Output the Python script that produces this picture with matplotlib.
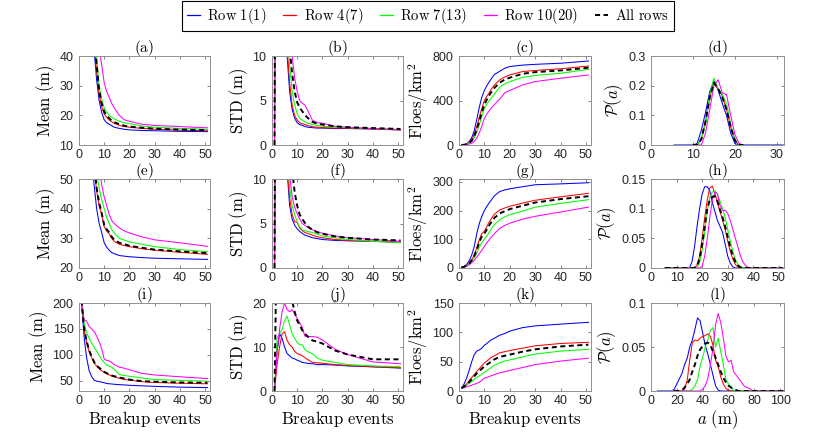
import matplotlib
matplotlib.use("Agg")
import matplotlib.pyplot as plt
from matplotlib.lines import Line2D
from matplotlib.ticker import FuncFormatter

plt.rcParams["font.family"] = ["Liberation Sans", "DejaVu Sans"]
plt.rcParams["mathtext.fontset"] = "cm"

nan = float("nan")

# breakup-event sample points shared by the time-series panels
EVENTS = [1, 2, 3, 4, 5, 6, 7, 8, 9, 10, 11, 12, 13, 14, 16, 18, 20, 25, 30, 40, 51]

# (a) mean floe size, case 1
a_row1 = [300, 200, 120, 80, 55, 42, 32, 25, 21, 18.5, 17.5, 17, 16.5, 16, 15.6, 15.3, 15.1, 14.9, 14.8, 14.6, 14.5]
a_row4 = [300, 200, 130, 85, 60, 45, 35, 27, 23, 20.5, 19.3, 18.4, 17.8, 17.3, 16.6, 16.2, 16, 15.6, 15.3, 15, 14.8]
a_row7 = [300, 220, 140, 95, 66, 50, 40, 30, 25.5, 22.5, 21, 20, 19.3, 18.8, 18, 17.5, 17.2, 16.4, 16, 15.6, 15.3]
a_row10 = [300, 250, 170, 110, 80, 62, 52, 43, 37, 31, 28, 26, 24, 22.5, 20, 18.5, 18, 17, 16.6, 16.2, 15.8]
a_all = [300, 210, 135, 90, 62, 47, 37, 28.5, 24, 21.2, 20, 19, 18.2, 17.7, 17, 16.5, 16.2, 15.8, 15.5, 15.2, 15]

# (b) std, case 1
b_row1 = [0, 80, 50, 30, 18, 10, 6, 4, 3, 2.5, 2.3, 2.2, 2.1, 2.0, 1.95, 1.9, 1.9, 1.85, 1.85, 1.8, 1.7]
b_row4 = [0, 80, 50, 30, 19, 11, 7, 4.5, 3.3, 2.8, 2.5, 2.4, 2.3, 2.2, 2.05, 2.0, 1.95, 1.9, 1.9, 1.8, 1.7]
b_row7 = [0, 80, 50, 32, 21, 14, 9, 6, 4.5, 3.5, 3.0, 2.8, 2.6, 2.45, 2.3, 2.2, 2.1, 2.0, 1.95, 1.85, 1.75]
b_row10 = [0, 80, 55, 36, 24, 16, 12, 10, 7.5, 6, 5, 4.7, 4.5, 4.0, 2.8, 2.5, 2.45, 2.1, 2.0, 1.85, 1.7]
b_all = [0, 90, 60, 38, 25, 17, 11, 8, 6, 4.8, 4.2, 3.8, 3.4, 3.1, 2.6, 2.4, 2.3, 2.1, 2.0, 1.9, 1.8]

# (c) floe density, case 1
c_row1 = [0, 3, 10, 30, 65, 130, 230, 340, 430, 490, 535, 570, 605, 635, 662, 690, 705, 718, 725, 735, 755]
c_row4 = [0, 2, 8, 22, 45, 95, 165, 250, 330, 400, 440, 475, 510, 540, 585, 612, 630, 660, 670, 685, 710]
c_row7 = [0, 2, 6, 18, 32, 65, 115, 180, 260, 330, 370, 400, 430, 460, 520, 550, 570, 608, 625, 645, 680]
c_row10 = [0, 1, 4, 8, 16, 32, 60, 110, 170, 240, 280, 310, 340, 365, 410, 470, 490, 540, 570, 600, 630]
c_all = [0, 2, 7, 20, 38, 80, 140, 215, 295, 365, 410, 450, 485, 515, 560, 588, 605, 640, 655, 670, 695]

# (d) floe size distribution, case 1
d_x = [5.5, 10, 11, 12, 13, 14, 15, 16, 17, 18, 19, 20, 21, 22, 31.5]
d_row1 = [0, 0, 0.005, 0.05, 0.11, 0.18, 0.215, 0.185, 0.14, 0.1, 0.04, 0.005, 0, 0, 0]
d_row4 = [nan, 0, 0, 0.02, 0.08, 0.16, 0.21, 0.19, 0.165, 0.12, 0.06, 0.015, 0, 0, nan]
d_row7 = [nan, 0, 0, 0.02, 0.07, 0.17, 0.225, 0.19, 0.17, 0.14, 0.07, 0.02, 0, 0, nan]
d_row10 = [nan, 0, 0, 0, 0.04, 0.12, 0.2, 0.22, 0.175, 0.17, 0.1, 0.035, 0.005, 0, nan]
d_all = [nan, 0, 0, 0.02, 0.08, 0.16, 0.21, 0.19, 0.16, 0.12, 0.06, 0.015, 0, 0, nan]

# (e) mean, case 2
e_row1 = [300, 200, 120, 80, 58, 48, 40, 35, 32, 28.5, 27, 26, 25.2, 24.8, 24.2, 24, 23.8, 23.5, 23.3, 23.1, 22.9]
e_row4 = [300, 210, 130, 88, 66, 54, 46, 41, 38, 34, 32.5, 31.5, 30, 29, 28, 27.6, 27.2, 26.5, 26, 25.3, 24.6]
e_row7 = [300, 220, 140, 96, 72, 60, 52, 47, 43, 40, 37, 35, 33, 31.8, 30, 29.4, 28.8, 28, 27.2, 26.2, 25.5]
e_row10 = [300, 240, 160, 110, 84, 70, 61, 54, 48, 44, 41, 38, 36, 35, 33.5, 32.5, 31.8, 30.5, 29.5, 28.5, 27.3]
e_all = [300, 210, 130, 90, 67, 55, 47, 42, 38.5, 34.5, 33, 32, 30.5, 29.5, 28.5, 28, 27.5, 26.8, 26.2, 25.6, 25]

# (f) std, case 2
f_row1 = [0, 60, 40, 25, 15, 11, 7, 5.5, 4.8, 4.4, 4.1, 3.9, 3.7, 3.6, 3.4, 3.3, 3.2, 3.1, 3.05, 3.0, 2.9]
f_row4 = [0, 60, 40, 25, 16, 11.5, 7.8, 6, 5.2, 5.1, 4.5, 4.2, 4.0, 3.9, 3.7, 3.5, 3.4, 3.2, 3.1, 3.0, 2.9]
f_row7 = [0, 60, 40, 26, 17, 12.5, 9, 7, 6, 5.2, 4.6, 4.3, 4.2, 4.1, 4.0, 3.8, 3.6, 3.4, 3.2, 3.0, 2.85]
f_row10 = [0, 60, 42, 28, 19, 14, 10.5, 8, 6.8, 6.1, 5.5, 5.0, 4.8, 4.6, 4.3, 4.1, 3.9, 3.6, 3.4, 3.2, 3.0]
f_all = [0, 80, 50, 32, 22, 16, 12, 11, 8.5, 7, 6, 5.5, 5.1, 4.7, 4.3, 4.0, 3.85, 3.55, 3.4, 3.2, 3.1]

# (g) floe density, case 2
g_row1 = [2, 5, 12, 25, 45, 75, 120, 155, 180, 200, 215, 228, 240, 252, 266, 272, 276, 283, 290, 293, 297]
g_row4 = [2, 4, 9, 16, 28, 45, 70, 98, 120, 128, 145, 162, 175, 188, 202, 209, 215, 226, 236, 248, 260]
g_row7 = [2, 4, 8, 14, 24, 36, 52, 72, 88, 100, 112, 126, 140, 152, 168, 178, 186, 198, 212, 225, 238]
g_row10 = [2, 3, 6, 11, 18, 27, 38, 50, 62, 75, 88, 100, 110, 120, 138, 148, 156, 170, 180, 195, 212]
g_all = [2, 4, 9, 15, 27, 42, 64, 90, 110, 120, 135, 150, 163, 175, 190, 198, 205, 217, 228, 240, 250]

# (h) floe size distribution, case 2
h_x = [5.5, 15, 16, 17, 18, 19, 20, 21, 22, 23, 24, 25, 26, 27, 28, 29, 30, 31, 32, 33, 34, 35, 36, 37, 38, 39, 51.5]
h_row1 = [0, 0, 0.01, 0.035, 0.07, 0.1, 0.125, 0.137, 0.137, 0.13, 0.11, 0.095, 0.08, 0.07, 0.06, 0.04, 0.02, 0.008, 0.002, 0, 0, 0, 0, 0, 0, 0, 0]
h_row4 = [0, 0, 0, 0, 0.005, 0.02, 0.05, 0.085, 0.115, 0.135, 0.138, 0.125, 0.11, 0.095, 0.08, 0.065, 0.045, 0.028, 0.015, 0.006, 0.002, 0, 0, 0, 0, 0, 0]
h_row7 = [0, 0, 0, 0, 0, 0.01, 0.03, 0.06, 0.095, 0.12, 0.128, 0.13, 0.125, 0.112, 0.1, 0.085, 0.065, 0.045, 0.028, 0.014, 0.006, 0.002, 0, 0, 0, 0, 0]
h_row10 = [0, 0, 0, 0, 0, 0, 0.003, 0.02, 0.05, 0.085, 0.115, 0.128, 0.125, 0.105, 0.097, 0.097, 0.092, 0.08, 0.065, 0.05, 0.035, 0.02, 0.01, 0.004, 0.001, 0, 0]
h_all = [0, 0, 0, 0, 0.004, 0.015, 0.04, 0.07, 0.1, 0.115, 0.12, 0.121, 0.112, 0.098, 0.085, 0.07, 0.052, 0.035, 0.02, 0.01, 0.004, 0.001, 0, 0, 0, 0, 0]

# (i) mean, case 3
i_row1 = [205, 135, 95, 70, 58, 51, 49, 48, 47, 46, 44.5, 44, 43.5, 43, 42.3, 41.7, 41, 40, 39, 37.5, 36.5]
i_row4 = [205, 150, 124, 106, 95, 84, 78, 73, 69, 66, 63, 61, 59, 57.5, 54.5, 52.5, 51, 48, 46.5, 45, 44]
i_row7 = [205, 161, 143, 132, 123, 115, 107, 99, 91, 85, 80, 78, 76, 72, 62, 60, 58.5, 55, 52, 50.5, 49]
i_row10 = [205, 168, 165, 155, 150, 145, 136, 125, 112, 92, 89, 88, 85, 81, 76, 74, 71, 64, 61, 57.5, 54]
i_all = [205, 152, 127, 109, 97, 86, 79, 75, 71, 67, 64.5, 62, 60, 58.5, 56, 54, 52, 49, 48, 46.5, 46]

# (j) std, case 3
j_row1 = [0, 9, 13, 12, 10, 8.5, 8, 7.5, 7.3, 7, 6.8, 6.5, 6.4, 6.3, 6.2, 6, 6, 5.9, 5.7, 5.5, 5.2]
j_row4 = [0, 6, 10, 13, 13.5, 11.5, 10.5, 10, 9, 8.5, 8.3, 8, 7.6, 7.2, 6.5, 6.4, 6.3, 6, 5.8, 5.5, 5.3]
j_row7 = [0, 12, 13, 14, 16, 17, 15, 13, 12, 11, 10.5, 10.5, 9.5, 9, 8.5, 7.5, 7, 6.5, 6, 5.7, 5.5]
j_row10 = [0, 9, 14, 18, 20, 18.5, 18, 18.5, 17.5, 16.5, 15.5, 14.5, 12.5, 12.3, 12.4, 12.2, 11.6, 9.5, 8.3, 6.6, 6.2]
j_all = [0, 40, 35, 30, 27, 24, 22, 20.5, 18, 16, 15, 13.8, 13, 12.5, 11.5, 11.2, 10.8, 9.2, 8.3, 7.2, 7.2]

# (k) floe density, case 3
k_row1 = [5, 12, 22, 35, 50, 62, 68, 70, 73, 78, 81, 85, 88, 90, 95, 98, 102, 108, 111, 114, 117]
k_row4 = [5, 8, 12, 18, 23, 28, 33, 38, 43, 48, 51, 55, 58, 60, 65, 67, 69, 73, 77, 81, 83]
k_row7 = [5, 7, 10, 13, 16, 20, 23, 26, 29, 32, 35, 38, 41, 44, 48, 51, 53, 58, 63, 68, 71]
k_row10 = [5, 6, 7, 8.5, 10, 11.5, 13, 15, 18, 22, 23, 25, 26.5, 28, 31, 33, 35, 40, 45, 51, 56]
k_all = [5, 7.5, 11, 15, 20, 25, 30, 34, 38, 42, 45, 48, 51, 54, 58, 60, 62, 67, 71, 76, 79]

# (l) floe size distribution, case 3
l_x = [5, 16, 18, 20, 22, 24, 26, 28, 30, 32, 34, 36, 38, 40, 42, 44, 46, 48, 50, 52,
       54, 56, 58, 60, 62, 64, 66, 68, 70, 72, 74, 76, 78, 80, 103]
l_row1 = [0, 0, 0.002, 0.008, 0.014, 0.02, 0.03, 0.037, 0.05, 0.058,
          0.07, 0.083, 0.08, 0.066, 0.052, 0.042, 0.03, 0.018, 0.006, 0.001,
          0, 0, 0, 0, 0, 0, 0, 0, 0, 0, 0, 0, 0, 0, 0]
l_row4 = [nan, 0, 0, 0, 0, 0, 0.002, 0.012, 0.035, 0.055,
          0.058, 0.057, 0.06, 0.062, 0.063, 0.065, 0.062, 0.052, 0.035, 0.028,
          0.016, 0.008, 0.003, 0.001, 0, 0, 0, 0, 0, 0, 0, 0, 0, 0, 0]
l_row7 = [nan, 0, 0, 0, 0, 0, 0, 0, 0, 0.002,
          0.006, 0.013, 0.028, 0.038, 0.05, 0.058, 0.069, 0.072, 0.05, 0.06,
          0.045, 0.03, 0.013, 0.008, 0.004, 0.001, 0, 0, 0, 0, 0, 0, 0, 0, 0]
l_row10 = [nan, 0, 0, 0, 0, 0, 0, 0, 0, 0,
           0, 0, 0, 0.002, 0.006, 0.014, 0.03, 0.048, 0.075, 0.088,
           0.078, 0.06, 0.04, 0.033, 0.035, 0.022, 0.018, 0.014, 0.01, 0.006, 0.004, 0.003, 0.001, 0, 0]
l_all = [nan, nan, 0, 0, 0, 0.001, 0.004, 0.008, 0.013, 0.022,
         0.03, 0.04, 0.047, 0.051, 0.054, 0.055, 0.052, 0.045, 0.038, 0.03,
         0.022, 0.015, 0.01, 0.006, 0.004, 0.002, 0.001, 0, 0, 0, 0, 0, 0, 0, 0]

LABELS = ["Row 1(1)", "Row 4(7)", "Row 7(13)", "Row 10(20)", "All rows"]
COLORS = ["#0000ff", "#ff0000", "#00ff00", "#ff00ff", "k"]
DASH = (0, (2.6, 1.8))

# letter, x, series, xlim, xticks, ylim, yticks, ylabel
panels = [
    ("a", EVENTS, [a_row1, a_row4, a_row7, a_row10, a_all], 52, [0, 10, 20, 30, 40, 50], (10, 40), [10, 20, 30, 40], "mean"),
    ("b", EVENTS, [b_row1, b_row4, b_row7, b_row10, b_all], 52, [0, 10, 20, 30, 40, 50], (0, 10), [0, 5, 10], "std"),
    ("c", EVENTS, [c_row1, c_row4, c_row7, c_row10, c_all], 52, [0, 10, 20, 30, 40, 50], (0, 800), [0, 400, 800], "floes"),
    ("d", d_x, [d_row1, d_row4, d_row7, d_row10, d_all], 31.7, [0, 10, 20, 30], (0, 0.3), [0, 0.1, 0.2, 0.3], "pdf"),
    ("e", EVENTS, [e_row1, e_row4, e_row7, e_row10, e_all], 52, [0, 10, 20, 30, 40, 50], (20, 50), [20, 30, 40, 50], "mean"),
    ("f", EVENTS, [f_row1, f_row4, f_row7, f_row10, f_all], 52, [0, 10, 20, 30, 40, 50], (0, 10), [0, 5, 10], "std"),
    ("g", EVENTS, [g_row1, g_row4, g_row7, g_row10, g_all], 52, [0, 10, 20, 30, 40, 50], (0, 310), [0, 100, 200, 300], "floes"),
    ("h", h_x, [h_row1, h_row4, h_row7, h_row10, h_all], 52, [0, 10, 20, 30, 40, 50], (0, 0.15), [0, 0.05, 0.1, 0.15], "pdf"),
    ("i", EVENTS, [i_row1, i_row4, i_row7, i_row10, i_all], 52, [0, 10, 20, 30, 40, 50], (30, 200), [50, 100, 150, 200], "mean"),
    ("j", EVENTS, [j_row1, j_row4, j_row7, j_row10, j_all], 52, [0, 10, 20, 30, 40, 50], (0, 20), [0, 10, 20], "std"),
    ("k", EVENTS, [k_row1, k_row4, k_row7, k_row10, k_all], 52, [0, 10, 20, 30, 40, 50], (0, 150), [0, 50, 100, 150], "floes"),
    ("l", l_x, [l_row1, l_row4, l_row7, l_row10, l_all], 103, [0, 20, 40, 60, 80, 100], (0, 0.1), [0, 0.05, 0.1], "pdf"),
]

YLABELS = {
    "mean": r"$\mathrm{Mean\ (m)}$",
    "std": r"$\mathrm{STD\ (m)}$",
    "floes": r"$\mathrm{Floes/km}^2$",
    "pdf": r"$\mathcal{P}(a)$",
}

W, H = 830, 434
col_left = [79, 272, 459, 651]
col_width = [131, 131, 132, 133]
row_top = [56, 179, 303]
row_height = [89, 89, 88]

fig = plt.figure(figsize=(W / 100, H / 100), dpi=100)
fmt = FuncFormatter(lambda v, p: f"{v:g}")

for n, (letter, x, series, xmax, xticks, ylim, yticks, kind) in enumerate(panels):
    r, c = divmod(n, 4)
    ax = fig.add_axes([col_left[c] / W, 1 - (row_top[r] + row_height[r]) / H,
                       col_width[c] / W, row_height[r] / H])
    for k, (ys, col) in enumerate(zip(series, COLORS)):
        if k == 4:
            ax.plot(x, ys, color=col, lw=1.4, ls=DASH)
        else:
            ax.plot(x, ys, color=col, lw=0.75)
    ax.set_xlim(0, xmax)
    ax.set_ylim(*ylim)
    ax.set_xticks(xticks)
    ax.set_yticks(yticks)
    ax.xaxis.set_major_formatter(fmt)
    ax.yaxis.set_major_formatter(fmt)
    ax.tick_params(direction="in", top=True, right=True, length=2.2, width=0.5,
                   color="#555555", labelcolor="#262626", labelsize=9)
    ax.tick_params(axis="x", pad=3)
    ax.tick_params(axis="y", pad=4)
    for sp in ax.spines.values():
        sp.set_color("#909090")
        sp.set_linewidth(0.7)
    ax.set_title(f"$\\mathrm{{({letter})}}$", fontsize=11, pad=3)
    ax.set_ylabel(YLABELS[kind], fontsize=12, labelpad=2)
    if r == 2:
        if kind == "pdf":
            ax.set_xlabel(r"$a\ \mathrm{(m)}$", fontsize=12, labelpad=1)
        else:
            ax.set_xlabel(r"$\mathrm{Breakup\ events}$", fontsize=12, labelpad=1)

handles = [Line2D([], [], color=col, lw=0.9) for col in COLORS[:4]]
handles.append(Line2D([], [], color="k", lw=1.4, ls=DASH))
leg_labels = [r"$\mathrm{" + s.replace(" ", r"\ ") + "}$" for s in LABELS]
leg = fig.legend(handles, leg_labels, loc="upper center", bbox_to_anchor=(428 / W, 1 - 1 / H),
                 ncol=5, frameon=True, fancybox=False, edgecolor="k", framealpha=1,
                 fontsize=10.5, handlelength=0.9, handletextpad=0.5, columnspacing=1.15,
                 borderpad=0.35, borderaxespad=0)
leg.get_frame().set_linewidth(0.8)

fig.savefig("out.png", dpi=100)
